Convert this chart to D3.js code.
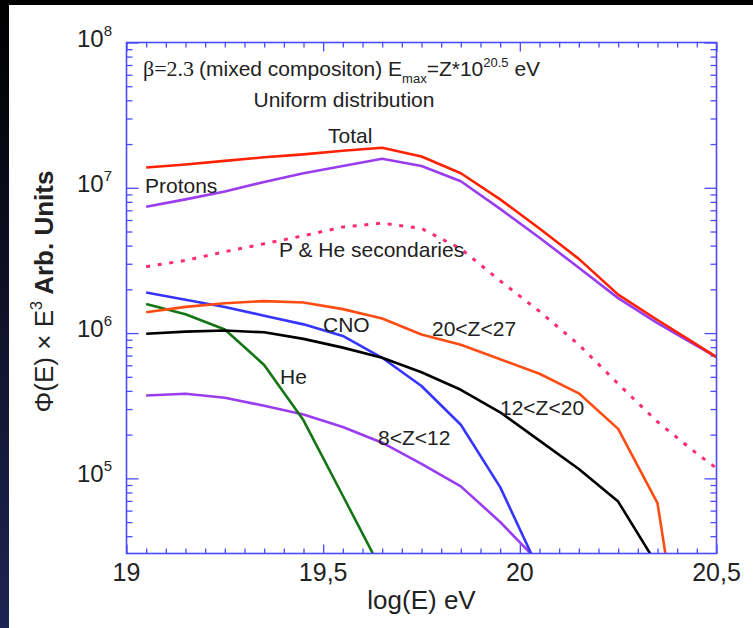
<!DOCTYPE html>
<html>
<head>
<meta charset="utf-8">
<script src="https://cdn.jsdelivr.net/npm/d3@7"></script>
<style>
  html, body { margin: 0; padding: 0; background: #ffffff; }
  svg { display: block; }
</style>
</head>
<body>
<svg id="chart" width="753" height="628"></svg>
<script>
// log10(E / eV) sampling points shared by every spectrum
const logE = [19.05, 19.15, 19.25, 19.35, 19.45, 19.55, 19.65, 19.75, 19.85, 19.95,
              20.05, 20.15, 20.25, 20.35, 20.45, 20.5];

// Φ(E)·E³ in arbitrary units
const total       = [1.380e7, 1.445e7, 1.531e7, 1.622e7, 1.698e7, 1.799e7, 1.884e7, 1.641e7, 1.259e7, 8.32e6,
                     5.25e6, 3.24e6, 1.84e6, 1.23e6, 8.32e5, 6.84e5];
const protons     = [7.41e6, 8.32e6, 9.44e6, 1.096e7, 1.259e7, 1.413e7, 1.585e7, 1.413e7, 1.109e7, 7.16e6,
                     4.53e6, 2.82e6, 1.74e6, 1.17e6, 8.17e5, 6.84e5];
const secondaries = [2.864e6, 3.162e6, 3.63e6, 4.12e6, 4.68e6, 5.37e6, 5.71e6, 5.25e6, 3.80e6, 2.29e6,
                     1.41e6, 8.32e5, 4.47e5, 2.45e5, 1.48e5, 1.175e5];
const cno         = [1.905e6, 1.698e6, 1.514e6, 1.318e6, 1.148e6, 9.55e5, 6.76e5, 4.32e5, 2.34e5, 8.71e4, 2.29e4];
const z20to27     = [1.393e6, 1.514e6, 1.603e6, 1.660e6, 1.622e6, 1.462e6, 1.259e6, 9.77e5, 8.32e5, 6.61e5,
                     5.25e5, 3.85e5, 2.19e5, 6.76e4, 1.26e3];
const z12to20     = [9.89e5, 1.023e6, 1.042e6, 1.012e6, 9.12e5, 7.94e5, 6.76e5, 5.37e5, 4.07e5, 2.85e5,
                     1.82e5, 1.16e5, 6.92e4, 2.51e4];
const helium      = [1.585e6, 1.349e6, 1.059e6, 6.03e5, 2.51e5, 7.59e4, 2.29e4];
const z8to12      = [3.72e5, 3.82e5, 3.59e5, 3.16e5, 2.75e5, 2.26e5, 1.76e5, 1.26e5, 8.81e4, 5.01e4, 2.63e4];

// axis tick definitions
const xMajorTicks  = [19, 19.5, 20, 20.5];
const xTickLabels  = ["19", "19,5", "20", "20,5"];
const yDecadeExps  = [5, 6, 7, 8];

const W = 753, H = 628;
const plot = { left: 126.5, right: 716.5, top: 42.5, bottom: 553.5 };

const svg = d3.select("#chart");

// dark screen edge along the top and left
const defs = svg.append("defs");
const grad = defs.append("linearGradient").attr("id", "edgeGrad")
  .attr("x1", 0).attr("y1", 0).attr("x2", 0).attr("y2", 1);
grad.append("stop").attr("offset", "0%").attr("stop-color", "#000000");
grad.append("stop").attr("offset", "100%").attr("stop-color", "#1c2452");
svg.append("rect").attr("x", 0).attr("y", 0).attr("width", W).attr("height", H).attr("fill", "#ffffff");
svg.append("rect").attr("x", 0).attr("y", 0).attr("width", 9).attr("height", H).attr("fill", "url(#edgeGrad)");
svg.append("rect").attr("x", 0).attr("y", 0).attr("width", W).attr("height", 5).attr("fill", "#000000");

const x = d3.scaleLinear().domain([19, 20.5]).range([plot.left, plot.right]);
const y = d3.scaleLog().domain([3.04e4, 1e8]).range([plot.bottom, plot.top]);

defs.append("clipPath").attr("id", "plotClip")
  .append("rect")
  .attr("x", plot.left).attr("y", plot.top)
  .attr("width", plot.right - plot.left).attr("height", plot.bottom - plot.top);

const frameColor = "#4a4aff";
const textColor = "#222222";
const sansFont = "'Liberation Sans', Arial, Helvetica, sans-serif";

// ---- ticks (all pointing into the plot) ----
const xMinor = d3.range(0, 31).map(i => 19 + i * 0.05).filter(v => !xMajorTicks.some(m => Math.abs(m - v) < 1e-9));
const yMinor = [];
for (let e = 4; e <= 7; e++) for (let m = 2; m <= 9; m++) {
  const v = m * Math.pow(10, e);
  if (v >= 3.04e4 && v <= 1e8) yMinor.push(v);
}
const yMajor = yDecadeExps.map(e => Math.pow(10, e));

function styleAxis(g) {
  g.select(".domain").remove();
  g.selectAll(".tick line").attr("stroke", frameColor).attr("stroke-width", 1.3);
  g.selectAll(".tick text").remove();
}

svg.append("g").attr("transform", `translate(0,${plot.bottom})`)
  .call(d3.axisBottom(x).tickValues(xMinor).tickSize(-5)).call(styleAxis);
svg.append("g").attr("transform", `translate(0,${plot.bottom})`)
  .call(d3.axisBottom(x).tickValues(xMajorTicks).tickSize(-9)).call(styleAxis);
svg.append("g").attr("transform", `translate(0,${plot.top})`)
  .call(d3.axisTop(x).tickValues(xMinor).tickSize(-5)).call(styleAxis);
svg.append("g").attr("transform", `translate(0,${plot.top})`)
  .call(d3.axisTop(x).tickValues(xMajorTicks).tickSize(-9)).call(styleAxis);

svg.append("g").attr("transform", `translate(${plot.left},0)`)
  .call(d3.axisLeft(y).tickValues(yMinor).tickSize(-6)).call(styleAxis);
svg.append("g").attr("transform", `translate(${plot.left},0)`)
  .call(d3.axisLeft(y).tickValues(yMajor).tickSize(-12)).call(styleAxis);
svg.append("g").attr("transform", `translate(${plot.right},0)`)
  .call(d3.axisRight(y).tickValues(yMinor).tickSize(-6)).call(styleAxis);
svg.append("g").attr("transform", `translate(${plot.right},0)`)
  .call(d3.axisRight(y).tickValues(yMajor).tickSize(-12)).call(styleAxis);

// ---- tick labels ----
svg.append("g").selectAll("text").data(xMajorTicks).join("text")
  .attr("x", d => x(d)).attr("y", plot.bottom + 27)
  .attr("text-anchor", "middle")
  .attr("font-family", sansFont).attr("font-size", 25).attr("fill", textColor)
  .text((d, i) => xTickLabels[i]);

const yLab = svg.append("g").selectAll("text").data(yDecadeExps).join("text")
  .attr("x", 112).attr("y", d => y(Math.pow(10, d)) + 4)
  .attr("text-anchor", "end")
  .attr("font-family", sansFont).attr("font-size", 24).attr("fill", textColor);
yLab.append("tspan").text("10");
yLab.append("tspan").attr("dy", -11).attr("font-size", 15).text(d => d);

// ---- axis titles ----
svg.append("text")
  .attr("x", (plot.left + plot.right) / 2).attr("y", 609)
  .attr("text-anchor", "middle")
  .attr("font-family", sansFont).attr("font-size", 26).attr("fill", textColor)
  .text("log(E) eV");

const yTitle = svg.append("text")
  .attr("transform", "translate(53,291.5) rotate(-90)")
  .attr("text-anchor", "middle")
  .attr("font-family", sansFont).attr("font-size", 26).attr("fill", textColor);
yTitle.append("tspan").text("Φ(E) × E");
yTitle.append("tspan").attr("dy", -11).attr("font-size", 16).text("3");
yTitle.append("tspan").attr("dy", 11).attr("font-weight", "bold").text(" Arb. Units");

// ---- spectra ----
const series = [
  { name: "z8to12",      values: z8to12,      color: "#9a3cf0", dash: null },
  { name: "helium",      values: helium,      color: "#137513", dash: null },
  { name: "cno",         values: cno,         color: "#3535ff", dash: null },
  { name: "z12to20",     values: z12to20,     color: "#000000", dash: null },
  { name: "z20to27",     values: z20to27,     color: "#ff4d12", dash: null },
  { name: "secondaries", values: secondaries, color: "#ff2d6e", dash: "4,7.7" },
  { name: "protons",     values: protons,     color: "#9a3cf0", dash: null },
  { name: "total",       values: total,       color: "#ff2200", dash: null }
];

const line = d3.line().x(d => x(d[0])).y(d => y(d[1]));

svg.append("g").attr("clip-path", "url(#plotClip)")
  .selectAll("path").data(series).join("path")
  .attr("d", s => line(s.values.map((v, i) => [logE[i], v])))
  .attr("fill", "none")
  .attr("stroke", s => s.color)
  .attr("stroke-width", s => s.dash ? 3 : 2.6)
  .attr("stroke-dasharray", s => s.dash)
  .attr("stroke-linejoin", "round");

// ---- frame ----
svg.append("rect")
  .attr("x", plot.left).attr("y", plot.top)
  .attr("width", plot.right - plot.left).attr("height", plot.bottom - plot.top)
  .attr("fill", "none").attr("stroke", frameColor).attr("stroke-width", 1.6);

// ---- annotations ----
const ann = svg.append("g").attr("font-family", sansFont).attr("font-size", 21).attr("fill", textColor);

const title = ann.append("text").attr("x", 143).attr("y", 75.5);
title.append("tspan").attr("font-family", "'Liberation Serif', 'Times New Roman', serif").attr("font-size", 22).text("β=2.3");
title.append("tspan").attr("x", 199).text("(mixed compositon) E");
title.append("tspan").attr("dy", 7).attr("font-size", 13).text("max");
title.append("tspan").attr("dy", -7).text("=Z*10");
title.append("tspan").attr("dy", -9).attr("font-size", 13).text("20.5");
title.append("tspan").attr("dy", 9).text(" eV");

ann.append("text").attr("x", 253.5).attr("y", 106.5).text("Uniform distribution");

const labels = [
  { text: "Total",              x: 328,   y: 143 },
  { text: "Protons",            x: 145,   y: 193 },
  { text: "P & He secondaries", x: 279,   y: 256.5 },
  { text: "CNO",                x: 323,   y: 332 },
  { text: "20<Z<27",            x: 432,   y: 336 },
  { text: "He",                 x: 280,   y: 384 },
  { text: "12<Z<20",            x: 500,   y: 415 },
  { text: "8<Z<12",             x: 378,   y: 445 }
];
ann.selectAll("text.lbl").data(labels).join("text").attr("class", "lbl")
  .attr("x", d => d.x).attr("y", d => d.y).text(d => d.text);
</script>
</body>
</html>
